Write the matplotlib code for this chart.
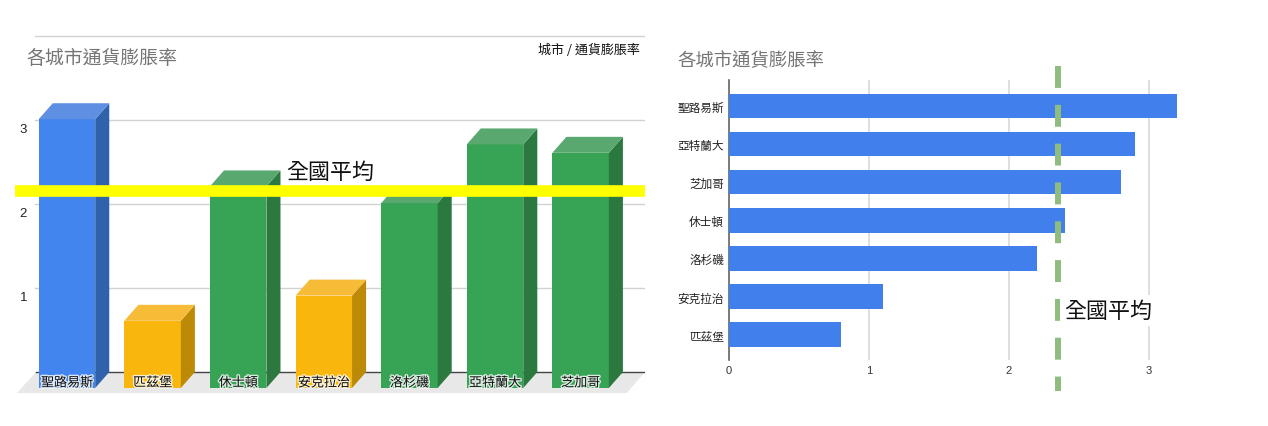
import matplotlib
matplotlib.use("Agg")
import matplotlib.pyplot as plt
import matplotlib.patheffects as pe

plt.rcParams['font.family'] = ['Noto Sans CJK TC', 'DejaVu Sans']

# left chart, order as drawn
cities_left = ["聖路易斯", "匹茲堡", "休士頓", "安克拉治", "洛杉磯", "亞特蘭大", "芝加哥"]
rates_left = [3.2, 0.8, 2.4, 1.1, 2.2, 2.9, 2.8]
shades_left = ["blue", "amber", "green", "amber", "green", "green", "green"]

# right chart, sorted
cities_right = ["聖路易斯", "亞特蘭大", "芝加哥", "休士頓", "洛杉磯", "安克拉治", "匹茲堡"]
rates_right = [3.2, 2.9, 2.8, 2.4, 2.2, 1.1, 0.8]

national_avg = 2.35
left_ticks = [1, 2, 3]
right_ticks = [0, 1, 2, 3]

# front, side, top
palette = {
    "blue": ("#4285ee", "#3062ab", "#5e8fe2"),
    "amber": ("#f9b60c", "#bd8a07", "#f6bb37"),
    "green": ("#37a355", "#2b793f", "#58a86f"),
}
W, H = 1268, 427


def px_axes(fig, x0, y0, x1, y1):
    # axes box from pixel corners, y counted from the top
    return fig.add_axes([x0 / W, 1 - y1 / H, (x1 - x0) / W, (y1 - y0) / H])


fig = plt.figure(figsize=(W / 100, H / 100), dpi=100)

# ---- left: fake 3d column chart ----
ax = px_axes(fig, 15, 31, 645, 401)
ax.set_xlim(-0.607, 6.752)
ax.set_ylim(-0.143, 4.262)
ax.axis("off")

bw = 0.66
dx = 0.164
dy = 0.19

ax.fill([-0.584, -0.362, 6.752, 6.54], [-0.06, dy, dy, -0.06], color="#e8e8e8", lw=0, zorder=1)
for v in [1, 2, 3, 4]:
    ax.plot([-0.374, 6.752], [v + dy, v + dy], color="#d2d2d2", lw=1, zorder=1.5)
ax.plot([-0.362, 6.752], [dy, dy], color="#444444", lw=1, zorder=2)

for i, (v, s) in enumerate(zip(rates_left, shades_left)):
    front, side, top = palette[s]
    l = i - bw / 2
    r = i + bw / 2
    ax.bar(i, v, width=bw, color=front, lw=0, zorder=3)
    ax.fill([r, r + dx, r + dx, r], [0, dy, v + dy, v], color=side, lw=0, zorder=3)
    ax.fill([l, l + dx, r + dx, r], [v, v + dy, v + dy, v], color=top, lw=0, zorder=3)
    ax.text(i, 0.06, cities_left[i], ha="center", va="center", fontsize=9.4, color="#111111", zorder=6,
            fontweight="medium",
            path_effects=[pe.withStroke(linewidth=2, foreground="white", alpha=0.8)])

ax.axhline(national_avg, color="#ffff00", lw=8.4, zorder=4, solid_capstyle="butt")
ax.text(2.56, 2.57, "全國平均", fontsize=15.8, color="#111111", va="center", ha="left", zorder=5)

for v in left_ticks:
    ax.text(-0.51, v + 0.083, str(v), ha="center", va="center", fontsize=9.5,
            family="Liberation Sans", color="#222222")

fig.text(26 / W, 1 - 59 / H, "各城市通貨膨脹率", fontsize=13.6, color="#757575", va="center")
fig.text(640 / W, 1 - 50 / H, "城市 / 通貨膨脹率", fontsize=9.4, color="#111111", va="center", ha="right",
         fontweight="medium")

# ---- right: horizontal bars ----
ax2 = px_axes(fig, 729, 81, 1240, 361)
ypos = list(range(len(cities_right)))
ax2.barh(ypos, rates_right, height=0.643, color="#4180ec", zorder=3)
ax2.plot([national_avg, national_avg], [-1.05, 7.48], color="#8fbc7f", lw=4.3, clip_on=False, zorder=4,
         dash_capstyle="butt", dashes=(3.67, 2.83))
ax2.set_xlim(0, 3.65)
ax2.set_ylim(6.667, -0.682)
ax2.set_xticks(right_ticks)
ax2.set_xticklabels([str(t) for t in right_ticks], family="Liberation Sans", fontsize=8, color="#333333")
ax2.set_yticks(ypos)
ax2.set_yticklabels(cities_right, fontsize=8.4, color="#222222", fontweight="medium", va="center_baseline")
ax2.tick_params(axis="both", length=0)
ax2.tick_params(axis="y", pad=3.5)
ax2.tick_params(axis="x", pad=3.5)
ax2.grid(axis="x", color="#d9d9d9", lw=1.2, zorder=0)
ax2.set_axisbelow(True)
for name in ["top", "right", "bottom"]:
    ax2.spines[name].set_visible(False)
ax2.spines["left"].set_color("#666666")
ax2.spines["left"].set_linewidth(1.2)
ax2.text(2.395, 5.37, "全國平均", fontsize=15.8, color="#111111", va="center", ha="left", zorder=5,
         bbox=dict(facecolor="white", edgecolor="none", pad=3))

fig.text(677 / W, 1 - 61.5 / H, "各城市通貨膨脹率", fontsize=13.2, color="#757575", va="center")

fig.savefig("out.png", dpi=100)
